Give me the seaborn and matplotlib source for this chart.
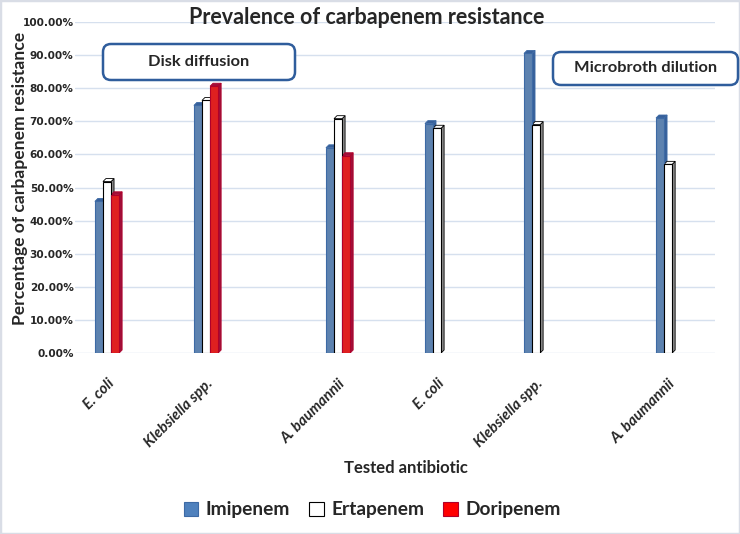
import numpy as np
import pandas as pd
import matplotlib
matplotlib.use("Agg")
import matplotlib.pyplot as plt
import seaborn as sns
from matplotlib.patches import FancyBboxPatch, Polygon, Rectangle, Patch

# ---------------- data ----------------
organisms = ["E. coli", "Klebsiella spp.", "A. baumannii",
             "E. coli", "Klebsiella spp.", "A. baumannii"]
methods = ["Disk diffusion"] * 3 + ["Microbroth dilution"] * 3
antibiotics = ["Imipenem", "Ertapenem", "Doripenem"]
imipenem = [45.8, 74.8, 62.0, 69.3, 90.5, 71.0]
ertapenem = [51.8, 76.3, 70.8, 67.9, 69.0, 57.0]
doripenem = [47.8, 80.6, 59.6, None, None, None]
yticks = list(range(0, 101, 10))

# ---------------- layout ----------------
group_slots = [0, 3, 7, 10, 13, 17]
colors = {"Imipenem": "#4f81bd", "Ertapenem": "#ffffff", "Doripenem": "#ff0000"}
edges = {"Imipenem": "#3d6aa5", "Ertapenem": "#000000", "Doripenem": "#b0002a"}
sides = {"Imipenem": "#37609a", "Ertapenem": "#8c8c8c", "Doripenem": "#a0103a"}

rows = []
for i in range(len(organisms)):
    for ab, vals in zip(antibiotics, [imipenem, ertapenem, doripenem]):
        if vals[i] is not None:
            rows.append({"pos": group_slots[i], "Antibiotic": ab, "value": vals[i]})
df = pd.DataFrame(rows)

sns.set_theme(style="white")
plt.rcParams["font.family"] = ["Lato", "DejaVu Sans"]

fig = plt.figure(figsize=(7.4, 5.34), dpi=100)
ax = fig.add_axes([75 / 740, 1 - 353 / 534, 640 / 740, (353 - 22) / 534])

sns.barplot(data=df, x="pos", y="value", hue="Antibiotic", hue_order=antibiotics,
            palette=colors, native_scale=True, width=0.245, ax=ax,
            legend=False, linewidth=0.8, zorder=3)

dx, dy = 0.09, 0.9
for cont, ab in zip(ax.containers, antibiotics):
    for p in cont.patches:
        h = p.get_height()
        if not np.isfinite(h):
            continue
        p.set_edgecolor(edges[ab])
        x0, w = p.get_x(), p.get_width()
        side = Polygon([(x0 + w, 0), (x0 + w + dx, dy), (x0 + w + dx, h + dy), (x0 + w, h)],
                       closed=True, facecolor=sides[ab], edgecolor=edges[ab], lw=0.6, zorder=2.9)
        top = Polygon([(x0, h), (x0 + dx, h + dy), (x0 + w + dx, h + dy), (x0 + w, h)],
                      closed=True, facecolor=sides[ab] if ab != "Ertapenem" else "#ffffff",
                      edgecolor=edges[ab], lw=0.6, zorder=2.9)
        ax.add_patch(side)
        ax.add_patch(top)

ax.set_xlim(-0.97, 18.42)
ax.set_ylim(0, 100)
ax.set_yticks(yticks)
ax.set_yticklabels([f"{v:.2f}%" for v in yticks], fontsize=7.6, fontweight="bold",
                   family=["DejaVu Sans"])
ax.set_xticks(group_slots)
ax.set_xticklabels(organisms, rotation=45, ha="right", rotation_mode="anchor",
                   fontsize=10.8, fontstyle="italic", fontweight="bold")
ax.tick_params(axis="x", pad=17, length=0)
ax.tick_params(axis="y", pad=1, length=0)
ax.set_xlabel("")
ax.set_ylabel("")
ax.yaxis.grid(True, color="#d6e0ee", lw=1)
ax.set_axisbelow(True)
for s in ax.spines.values():
    s.set_visible(False)

fig.text(0.495, 0.968, "Prevalence of carbapenem resistance", ha="center", va="center",
         fontsize=15.5, fontweight="bold")
fig.text(0.027, 0.665, "Percentage of carbapenem resistance", ha="center", va="center",
         rotation=90, fontsize=12.6, fontweight="bold")
fig.text(0.549, 0.124, "Tested antibiotic", ha="center", va="center",
         fontsize=12, fontweight="bold")

for (x0, x1, y0, y1, label) in [(1.03, 2.95, 4.54, 4.90, "Disk diffusion"),
                                 (5.53, 7.38, 4.49, 4.82, "Microbroth dilution")]:
    box = FancyBboxPatch((x0, y0), x1 - x0, y1 - y0,
                         boxstyle="round,pad=0,rounding_size=0.08",
                         transform=fig.dpi_scale_trans, facecolor="white",
                         edgecolor="#2f5d9c", lw=1.8, zorder=5)
    fig.patches.append(box)
    fig.text((x0 + x1) / 2, (y0 + y1) / 2, label, transform=fig.dpi_scale_trans,
             ha="center", va="center", fontsize=11.8, fontweight="bold", zorder=6)

handles = [Patch(facecolor=colors[a], edgecolor=edges[a], lw=0.8) for a in antibiotics]
fig.legend(handles, antibiotics, loc="center", bbox_to_anchor=(0.503, 0.045), ncol=3,
           frameon=False, prop={"size": 13.8, "weight": "bold"}, handlelength=0.75,
           handleheight=0.75, columnspacing=1.0, handletextpad=0.4)

fig.patches.append(Rectangle((0, 0), 1, 1, transform=fig.transFigure, fill=False,
                             edgecolor="#d9dde6", lw=2.5))

fig.savefig("out.png", dpi=100)
